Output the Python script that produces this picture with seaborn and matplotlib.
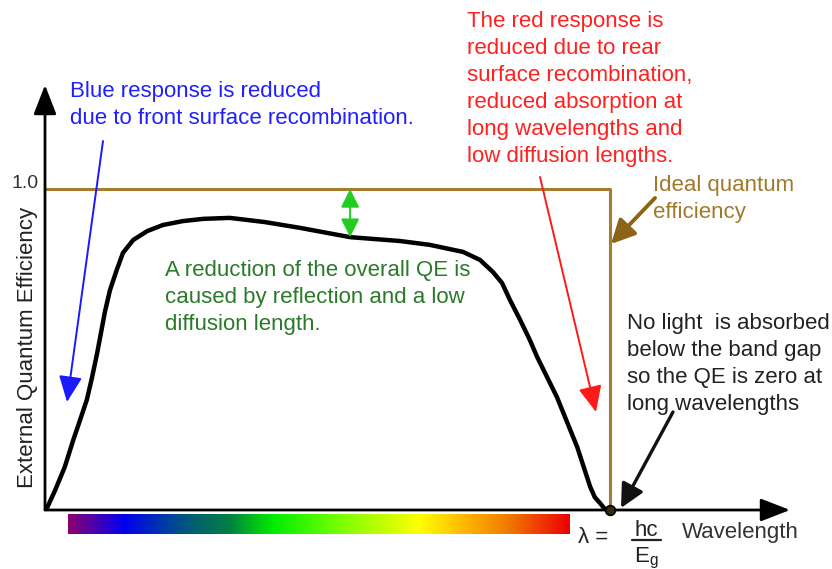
import numpy as np
import matplotlib
matplotlib.use("Agg")
import matplotlib.pyplot as plt
from matplotlib.colors import LinearSegmentedColormap
from matplotlib.lines import Line2D
import pandas as pd
import seaborn as sns

# Measured QE curve (wavelength normalised so that lambda = hc/Eg is 1.0)
qe_wavelength = [0.0, 0.0035, 0.018, 0.035, 0.050, 0.062, 0.074, 0.083, 0.092, 0.099,
                 0.106, 0.115, 0.127, 0.138, 0.156, 0.181, 0.209, 0.244, 0.280, 0.327,
                 0.389, 0.451, 0.540, 0.628, 0.681, 0.740, 0.770, 0.793, 0.809, 0.823,
                 0.841, 0.858, 0.871, 0.906, 0.942, 0.965, 0.973, 0.982, 0.991, 1.0]
qe_value = [0.0, 0.006, 0.062, 0.134, 0.218, 0.280, 0.343, 0.411, 0.486, 0.551,
            0.617, 0.685, 0.748, 0.801, 0.841, 0.869, 0.888, 0.900, 0.907, 0.910,
            0.897, 0.879, 0.850, 0.838, 0.826, 0.804, 0.779, 0.741, 0.707, 0.654,
            0.592, 0.530, 0.477, 0.352, 0.196, 0.072, 0.040, 0.022, 0.003, 0.0]

# Ideal QE: 1 up to the band gap wavelength, then zero
ideal_wavelength = [0.0, 1.0, 1.0]
ideal_value = [1.0, 1.0, 0.0]

# spectrum bar colours (violet -> red)
spectrum_colors = ["#8e0070", "#0000f0", "#0040a0", "#006070", "#008040", "#00ee00",
                   "#80ff00", "#ffff00", "#ffc000", "#f07800", "#ee0000"]
spectrum_stops = [0.0, 0.11, 0.20, 0.25, 0.32, 0.41, 0.55, 0.70, 0.78, 0.88, 1.0]

curve_df = pd.DataFrame({"wavelength": qe_wavelength, "qe": qe_value})
ideal_df = pd.DataFrame({"wavelength": ideal_wavelength, "qe": ideal_value})

sns.set_style("white")
plt.rcParams["font.family"] = ["Liberation Sans", "DejaVu Sans"]

W, H = 832, 569
fig = plt.figure(figsize=(W / 100, H / 100), dpi=100)
ax = fig.add_axes([45 / W, (H - 510) / H, (790 - 45) / W, (510 - 85) / H])
ax.set_xlim(0, 745 / 565)
ax.set_ylim(0, 425 / 321)
ax.patch.set_alpha(0)
for s in ax.spines.values():
    s.set_visible(False)
ax.set_xticks([])
ax.set_yticks([])

ideal_col = "#a67c2e"
sns.lineplot(data=ideal_df, x="wavelength", y="qe", estimator=None, sort=False,
             color=ideal_col, lw=2.2, ax=ax)
sns.lineplot(data=curve_df, x="wavelength", y="qe", estimator=None, sort=False,
             color="black", lw=3.2, ax=ax)
ax.plot([1.0], [0.0], "o", ms=7, mfc="#3a2810", mec="black", mew=1.2, zorder=6, clip_on=False)
ax.set_xlabel("")
ax.set_ylabel("")

# axis arrows
arrow_axis = dict(arrowstyle="-|>,head_length=0.9,head_width=0.35", color="black",
                  lw=2, shrinkA=0, shrinkB=0, mutation_scale=20)
ax.annotate("", xy=(1, 0), xytext=(0, 0), xycoords="axes fraction", arrowprops=arrow_axis)
ax.annotate("", xy=(0, 1), xytext=(0, 0), xycoords="axes fraction", arrowprops=arrow_axis)


def fp(px, py):
    return (px, H - py)


def ff(px, py):
    return (px / W, 1 - py / H)


def arrow(start, end, color, lw, hl=0.8, hw=0.36, ms=20):
    ax.annotate("", xy=fp(*end), xytext=fp(*start), xycoords="figure pixels",
                arrowprops=dict(arrowstyle=f"-|>,head_length={hl},head_width={hw}",
                                color=color, lw=lw, shrinkA=0, shrinkB=0,
                                mutation_scale=ms))


# annotation arrows
arrow((103, 141), (67, 402), "#1a1aff", 1.4)
arrow((540, 177), (596, 412), "#ff1a1a", 1.4)
arrow((655, 198), (611, 244), "#8c6418", 2.8, hl=0.8, hw=0.4, ms=18)
arrow((673, 412), (621, 508), "#111111", 2.4, hl=0.8, hw=0.4, ms=18)

# green double arrow between ideal and measured QE
ax.annotate("", xy=(0.540, 1.0), xytext=(0.540, 0.850),
            arrowprops=dict(arrowstyle="<|-|>,head_length=0.7,head_width=0.35",
                            color="#22cc22", lw=1.4, shrinkA=0, shrinkB=0, mutation_scale=16))

fs = 16
ls = 1.38
fig.text(*ff(70, 81), "Blue response is reduced\ndue to front surface recombination.",
         color="#2020ff", fontsize=fs, va="top", ha="left", linespacing=ls)
fig.text(*ff(467, 11), "The red response is\nreduced due to rear\nsurface recombination,\n"
         "reduced absorption at\nlong wavelengths and\nlow diffusion lengths.",
         color="#ff2020", fontsize=fs, va="top", ha="left", linespacing=ls)
fig.text(*ff(653, 175), "Ideal quantum\nefficiency",
         color="#a07a2a", fontsize=fs, va="top", ha="left", linespacing=ls)
fig.text(*ff(165, 260), "A reduction of the overall QE is\ncaused by reflection and a low\n"
         "diffusion length.", color="#2a7a2a", fontsize=fs, va="top", ha="left",
         linespacing=ls)
fig.text(*ff(627, 313), "No light  is absorbed\nbelow the band gap\nso the QE is zero at\n"
         "long wavelengths", color="#222222", fontsize=fs, va="top", ha="left",
         linespacing=ls)

fig.text(*ff(39, 188), "1.0", color="#333333", fontsize=14, ha="right", va="baseline")
fig.text(*ff(28, 347), "External Quantum Efficiency", color="#222222", fontsize=fs,
         rotation=90, ha="center", va="center")
fig.text(*ff(682, 538), "Wavelength", color="#333333", fontsize=fs, ha="left", va="baseline")

# lambda = hc / Eg
fig.text(*ff(578, 543), "λ =", color="#222222", fontsize=fs, ha="left", va="baseline")
fig.text(*ff(646, 536), "hc", color="#222222", fontsize=fs, ha="center", va="baseline")
fig.add_artist(Line2D([632 / W, 661 / W], [1 - 540 / H, 1 - 540 / H], color="#222222", lw=1.6))
fig.text(*ff(646, 562), r"E$_\mathregular{g}$", color="#222222", fontsize=fs,
         ha="center", va="baseline")

# spectrum bar under the wavelength axis
cmap = LinearSegmentedColormap.from_list("spectrum", list(zip(spectrum_stops, spectrum_colors)))
bax = fig.add_axes([68 / W, (H - 534) / H, (570 - 68) / W, 20 / H])
bax.imshow(np.linspace(0, 1, 512)[None, :], cmap=cmap, aspect="auto")
bax.set_axis_off()

fig.savefig("out.png", dpi=100)
